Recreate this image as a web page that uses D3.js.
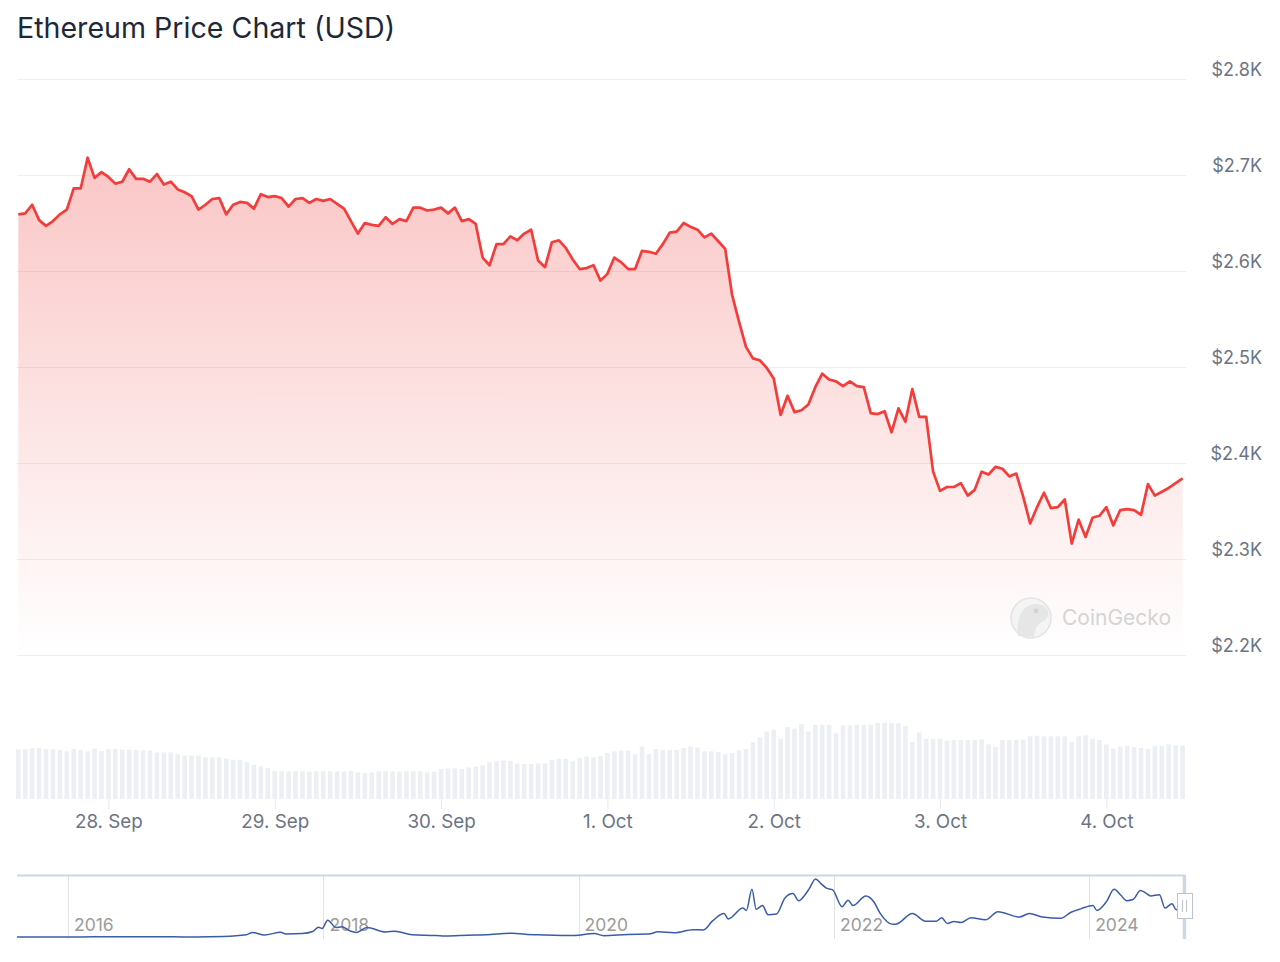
<!DOCTYPE html>
<html>
<head>
<meta charset="utf-8">
<script src="https://cdn.jsdelivr.net/npm/d3@7/dist/d3.min.js"></script>
<style>
  html, body { margin: 0; padding: 0; background: #ffffff; }
  svg { display: block; font-family: Inter, "Noto Sans", sans-serif; }
</style>
</head>
<body>
<svg id="chart" width="1280" height="962"></svg>
<script>
// ---------------- DATA ----------------
const title = "Ethereum Price Chart (USD)";
const priceStart = "2024-09-27T11:00:00Z"; // hourly points
const prices = [
  2659,2660,2669,2653,2647,2652,2659,2664,2686,2686,
  2718,2697,2703,2698,2691,2693,2706,2696,2696,2693,
  2701,2690,2693,2685,2682,2678,2664,2669,2675,2676,
  2659,2669,2672,2671,2665,2680,2677,2678,2676,2667,
  2675,2676,2671,2675,2673,2675,2670,2665,2652,2639,
  2650,2648,2647,2656,2649,2654,2652,2666,2666,2663,
  2664,2666,2660,2666,2652,2654,2649,2614,2606,2628,
  2628,2636,2632,2639,2643,2611,2604,2630,2632,2624,
  2612,2602,2603,2606,2590,2597,2614,2609,2602,2602,
  2621,2620,2618,2628,2640,2641,2650,2646,2643,2635,
  2639,2631,2623,2575,2547,2521,2509,2507,2499,2488,
  2450,2470,2453,2455,2461,2479,2493,2487,2485,2480,
  2485,2480,2479,2452,2451,2454,2432,2457,2443,2477,
  2448,2448,2391,2371,2375,2375,2379,2366,2372,2391,
  2388,2396,2394,2386,2389,2365,2337,2354,2369,2353,
  2354,2362,2316,2341,2323,2343,2345,2354,2335,2351,
  2352,2351,2346,2378,2366,2370,2374,2379,2384
];
// 24h volume, billions USD (one bar per hour)
const volumes = [
  14.2,14.2,14.5,14.5,14.2,14.2,14.0,13.6,14.3,14.0,
  13.6,14.4,13.7,14.2,14.3,14.1,14.1,14.0,13.9,13.8,
  13.3,13.3,13.3,12.8,12.4,12.4,12.4,11.9,11.9,11.9,
  11.6,11.2,11.2,10.5,9.8,9.3,8.9,8.0,8.0,7.9,
  8.0,7.9,7.8,8.0,7.9,8.0,7.9,7.8,8.0,7.6,
  7.4,7.6,7.9,8.0,7.9,7.8,7.9,7.9,8.0,7.6,
  7.8,8.6,8.7,8.8,8.6,9.0,9.3,9.6,10.6,10.9,
  11.0,10.9,10.1,10.0,10.0,10.1,10.2,11.2,11.5,11.4,
  10.8,11.8,12.1,11.9,12.3,13.2,13.6,13.8,13.8,12.8,
  15.0,12.8,14.3,14.0,14.0,14.0,14.6,15.0,14.7,13.6,
  13.6,13.4,12.8,13.1,13.9,14.3,16.2,17.6,19.3,19.8,
  17.2,20.6,20.1,21.4,19.3,21.2,21.2,21.2,18.8,21.0,
  21.0,21.2,21.2,21.2,21.7,21.7,21.7,21.6,20.8,16.3,
  19.0,17.2,17.2,17.2,16.7,16.8,16.8,16.8,16.9,17.0,
  15.6,14.9,16.9,16.9,16.9,17.0,17.9,18.1,17.9,17.9,
  17.9,17.9,16.3,17.9,18.2,17.2,16.8,15.6,14.4,15.0,
  15.2,14.8,14.6,14.3,15.2,15.2,15.6,15.3,15.3
];
const yTicks = [2200, 2300, 2400, 2500, 2600, 2700, 2800];
const dayTicks = ["2024-09-28","2024-09-29","2024-09-30","2024-10-01","2024-10-02","2024-10-03","2024-10-04"];

// navigator (full history)
const navYears = ["2016-01-01","2018-01-01","2020-01-01","2022-01-01","2024-01-01"];
const navDates = [
  "2015-08-08","2015-10-20","2016-01-01","2016-03-13","2016-06-17","2016-07-20","2016-10-25",
  "2017-01-01","2017-03-20","2017-05-25","2017-06-12","2017-07-16","2017-09-01","2017-09-15",
  "2017-11-01","2017-12-01","2017-12-18","2017-12-28","2018-01-13","2018-02-06","2018-02-22",
  "2018-03-18","2018-04-06","2018-05-05","2018-06-28","2018-07-24","2018-09-12","2018-11-20",
  "2018-12-14","2019-02-20","2019-04-10","2019-06-26","2019-08-01","2019-09-24","2019-12-18",
  "2020-02-15","2020-03-13","2020-05-20","2020-07-20","2020-08-15","2020-10-01","2020-11-24",
  "2020-12-23","2021-01-19","2021-02-20","2021-03-04","2021-04-15","2021-04-25","2021-05-11",
  "2021-05-23","2021-06-10","2021-06-26","2021-07-20","2021-08-14","2021-09-05","2021-09-22",
  "2021-10-10","2021-10-22","2021-11-09","2021-11-25","2021-12-10","2021-12-28","2022-01-24",
  "2022-02-10","2022-02-24","2022-04-02","2022-04-25","2022-05-12","2022-06-18","2022-07-01",
  "2022-08-13","2022-09-20","2022-10-20","2022-11-05","2022-11-21","2022-12-10","2022-12-30",
  "2023-01-28","2023-03-10","2023-04-15","2023-06-15","2023-07-14","2023-08-20","2023-10-12",
  "2023-11-10","2023-12-10","2024-01-12","2024-01-23","2024-02-20","2024-03-12","2024-04-01",
  "2024-04-17","2024-05-05","2024-05-27","2024-06-10","2024-06-25","2024-07-20","2024-08-05",
  "2024-08-25","2024-09-06","2024-09-27","2024-10-04"
];
const navPrices = [
  2.8,0.5,0.95,14,20,12,11,
  8,40,180,380,170,390,250,
  290,460,800,700,1390,780,850,
  500,380,790,420,480,180,130,
  85,145,180,320,220,170,125,
  280,110,210,240,430,350,600,
  580,1350,1950,1500,2400,2200,3950,
  2300,2600,1850,1900,3250,3600,3000,
  3500,4000,4800,4400,4050,3900,2500,
  3050,2600,3400,2900,2000,1050,1100,
  1950,1300,1300,1600,1120,1280,1200,
  1600,1420,2100,1650,1950,1650,1550,
  2050,2350,2600,2200,2950,3950,3450,
  3000,3100,3850,3650,3400,3500,2400,
  2750,2250,2650,2380
];

// ---------------- DRAW ----------------
const svg = d3.select("#chart");
const parseDay = d3.utcParse("%Y-%m-%d");
const t0 = new Date(priceStart).getTime();
const series = prices.map((p, i) => ({ t: new Date(t0 + i * 3600e3), p, v: volumes[i] }));

const plotLeft = 17, plotRight = 1186;
const x = d3.scaleUtc().domain([series[0].t, series[series.length - 1].t]).range([18.3, 1182.6]);
const y = d3.scaleLinear().domain([2200, 2800]).range([655, 79]);
const yVol = d3.scaleLinear().domain([0, 22]).range([799, 722]);

// title
svg.append("text").attr("x", 17).attr("y", 38)
  .attr("font-size", 28.6).attr("fill", "#1d2839").text(title);

// gradient
const defs = svg.append("defs");
const grad = defs.append("linearGradient").attr("id", "areaGrad")
  .attr("gradientUnits", "userSpaceOnUse").attr("x1", 0).attr("x2", 0)
  .attr("y1", y(2800)).attr("y2", y(2200));
grad.append("stop").attr("offset", "0%").attr("stop-color", "#f03c3c").attr("stop-opacity", 0.34);
grad.append("stop").attr("offset", "100%").attr("stop-color", "#f03c3c").attr("stop-opacity", 0.0);

// grid lines
svg.append("g").selectAll("line").data(yTicks).join("line")
  .attr("x1", plotLeft).attr("x2", plotRight)
  .attr("y1", d => Math.round(y(d)) + 0.5).attr("y2", d => Math.round(y(d)) + 0.5)
  .attr("stroke", "#eeeeee").attr("stroke-width", 1);

// y axis labels
const yAxis = d3.axisRight(y).tickValues(yTicks).tickSize(0)
  .tickFormat(d => "$" + (d / 1000).toFixed(1) + "K");
const gy = svg.append("g").attr("transform", "translate(1262,0)").call(yAxis);
gy.select(".domain").remove();
gy.selectAll("text").attr("x", 0).attr("dy", "-4px").attr("text-anchor", "end")
  .attr("font-size", 18).attr("font-family", "Inter, sans-serif").attr("fill", "#6b7485");

// area + line
const area = d3.area().x(d => x(d.t)).y0(y(2200)).y1(d => y(d.p));
const line = d3.line().x(d => x(d.t)).y(d => y(d.p));
svg.append("path").datum(series).attr("d", area).attr("fill", "url(#areaGrad)");
svg.append("path").datum(series).attr("d", line).attr("fill", "none")
  .attr("stroke", "#f23d3a").attr("stroke-width", 2.7).attr("stroke-linejoin", "round");

// watermark
const wm = svg.append("g");
wm.append("circle").attr("cx", 1031).attr("cy", 618).attr("r", 20)
  .attr("fill", "#f4f4f4").attr("stroke", "#e4e4e4").attr("stroke-width", 1.5);
wm.append("path").attr("d", "M1018,636 C1016,622 1020,606 1034,604 C1044,603 1050,610 1048,616 C1046,621 1040,622 1037,626 C1035,630 1034,634 1034,637 Z")
  .attr("fill", "#e6e6e6");
wm.append("circle").attr("cx", 1036).attr("cy", 611).attr("r", 2.5).attr("fill", "#d4d4d4");
wm.append("text").attr("x", 1062).attr("y", 625).attr("font-size", 21)
  .attr("fill", "#d4d4d4").text("CoinGecko");

// volume bars
const barW = 4.6;
svg.append("g").selectAll("rect").data(series).join("rect")
  .attr("x", d => x(d.t) - barW / 2).attr("width", barW)
  .attr("y", d => yVol(d.v)).attr("height", d => yVol(0) - yVol(d.v))
  .attr("fill", "#eceff3");

// x axis
const xAxis = d3.axisBottom(x).tickValues(dayTicks.map(parseDay))
  .tickFormat(d3.utcFormat("%-d. %b")).tickSize(10).tickPadding(6);
const gx = svg.append("g").attr("transform", "translate(0,799)").call(xAxis);
gx.select(".domain").remove();
gx.selectAll(".tick line").attr("stroke", "#e3e6ea");
gx.selectAll("text").attr("font-size", 18.8).attr("font-family", "Inter, sans-serif").attr("fill", "#6b7485");

// ---------------- NAVIGATOR ----------------
const nx = d3.scaleUtc().domain([parseDay("2015-08-08"), parseDay("2024-10-04")]).range([17, 1186]);
const ny = d3.scaleLinear().domain([0, 4800]).range([937, 879]);
const navTop = 875, navBottom = 939;

const ng = svg.append("g");
ng.selectAll("line.yr").data(navYears.map(parseDay)).join("line").attr("class", "yr")
  .attr("x1", d => Math.round(nx(d)) + 0.5).attr("x2", d => Math.round(nx(d)) + 0.5)
  .attr("y1", navTop).attr("y2", navBottom).attr("stroke", "#e3e3e3");
ng.selectAll("text.yr").data(navYears.map(parseDay)).join("text").attr("class", "yr")
  .attr("x", d => nx(d) + 6).attr("y", 931).attr("font-size", 17.5)
  .attr("fill", "#9b9b9b").text(d3.utcFormat("%Y"));

const navSeries = navDates.map((d, i) => ({ t: parseDay(d), p: navPrices[i] }));
ng.append("path").datum(navSeries)
  .attr("d", d3.line().x(d => nx(d.t)).y(d => ny(d.p)).curve(d3.curveMonotoneX))
  .attr("fill", "none").attr("stroke", "#3a5ca8").attr("stroke-width", 1.5);

// outline + selected range
ng.append("line").attr("x1", 17).attr("x2", 1185).attr("y1", navTop + 0.5).attr("y2", navTop + 0.5)
  .attr("stroke", "#cdd6e4").attr("stroke-width", 2);
ng.append("rect").attr("x", nx(series[0].t) - 1).attr("y", navTop)
  .attr("width", Math.max(3, nx(series[series.length - 1].t) - nx(series[0].t) + 1))
  .attr("height", navBottom - navTop).attr("fill", "#cdd6e4");

// handle
const hx = 1177, hy = 893;
ng.append("rect").attr("x", hx + 0.5).attr("y", hy + 0.5).attr("width", 15).attr("height", 25)
  .attr("fill", "#ffffff").attr("stroke", "#bcc4d0").attr("stroke-width", 1);
ng.selectAll("line.h").data([5, 9]).join("line").attr("class", "h")
  .attr("x1", d => hx + d + 0.5).attr("x2", d => hx + d + 0.5)
  .attr("y1", hy + 7).attr("y2", hy + 19).attr("stroke", "#bcc4d0");
</script>
</body>
</html>
